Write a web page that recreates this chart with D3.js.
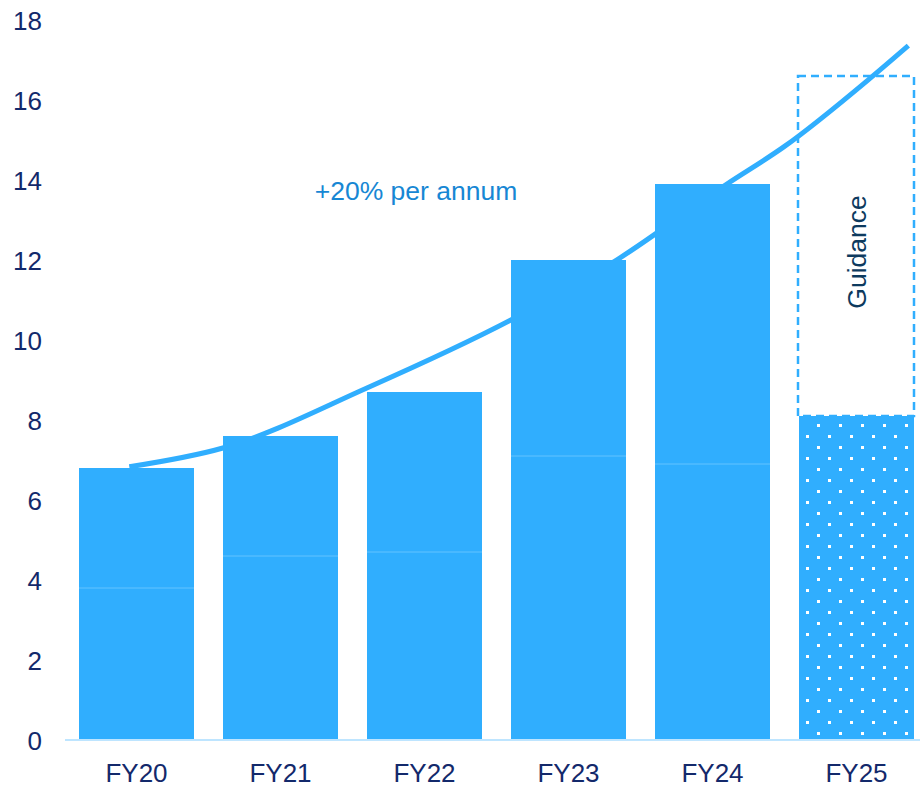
<!DOCTYPE html>
<html>
<head>
<meta charset="utf-8">
<script src="https://cdn.jsdelivr.net/npm/d3@7"></script>
<style>
  html, body { margin: 0; padding: 0; background: #ffffff; }
  svg { display: block; font-family: "Liberation Sans", Arial, Helvetica, sans-serif; }
</style>
</head>
<body>
<svg id="chart" width="920" height="787"></svg>
<script>
// Fiscal years on the x axis
const categories = ["FY20", "FY21", "FY22", "FY23", "FY24", "FY25"];
// Lower stacked segment of each reported year
const lowerValues = [3.8, 4.6, 4.7, 7.1, 6.9];
// Total height of each reported year
const totalValues = [6.8, 7.6, 8.7, 12.0, 13.9];
// FY25 guidance: solid (dotted) base and the top of the dashed range
const guidanceLow = 8.1;
const guidanceHigh = 16.6;
// Growth trend line, position in years from FY20 and value
const trendYears  = [-0.05, 0.6, 1.6, 2.6, 3.3, 4.1, 4.5, 5.1, 5.36];
const trendValues = [6.83, 7.3, 8.8, 10.5, 11.92, 13.9, 14.84, 16.56, 17.36];
// Y axis ticks
const yTicks = [0, 2, 4, 6, 8, 10, 12, 14, 16, 18];

const BLUE = "#30aefe";
const SPLIT = "#63c3ff";
const NAVY = "#13296b";

const svg = d3.select("#chart");

const y = d3.scaleLinear().domain([0, 18]).range([740, 20]);
const x = d3.scaleBand()
  .domain(categories)
  .range([64.5, 928.5])
  .paddingInner(29 / 144)
  .paddingOuter(14.5 / 144);

const step = x.step();
const x0 = x("FY20") + x.bandwidth() / 2;

// Dot fill for the guidance base
const defs = svg.append("defs");
const pat = defs.append("pattern")
  .attr("id", "dots")
  .attr("patternUnits", "userSpaceOnUse")
  .attr("width", 22).attr("height", 22)
  .attr("x", 3).attr("y", 6);
pat.append("rect").attr("width", 22).attr("height", 22).attr("fill", BLUE);
pat.append("rect").attr("x", 0).attr("y", 0).attr("width", 3).attr("height", 3).attr("fill", "#ffffff");
pat.append("rect").attr("x", 11).attr("y", 11).attr("width", 3).attr("height", 3).attr("fill", "#ffffff");

// Trend curve (behind bars)
const trend = trendYears.map((t, i) => [x0 + t * step, y(trendValues[i])]);
svg.append("path")
  .attr("d", d3.line().curve(d3.curveMonotoneX)(trend))
  .attr("fill", "none")
  .attr("stroke", BLUE)
  .attr("stroke-width", 5)
  .attr("stroke-linecap", "butt");

// Reported years: two stacked segments
const reported = categories.slice(0, totalValues.length);
const bars = svg.append("g");
bars.selectAll("rect.total")
  .data(reported)
  .join("rect")
  .attr("x", d => x(d))
  .attr("width", x.bandwidth())
  .attr("y", (d, i) => y(totalValues[i]))
  .attr("height", (d, i) => y(0) - 1 - y(totalValues[i]))
  .attr("fill", BLUE);
bars.selectAll("line.split")
  .data(reported)
  .join("line")
  .attr("x1", d => x(d))
  .attr("x2", d => x(d) + x.bandwidth())
  .attr("y1", (d, i) => y(lowerValues[i]))
  .attr("y2", (d, i) => y(lowerValues[i]))
  .attr("stroke", SPLIT)
  .attr("stroke-width", 1);

// FY25 guidance
svg.append("rect")
  .attr("x", x("FY25"))
  .attr("width", x.bandwidth())
  .attr("y", y(guidanceLow))
  .attr("height", y(0) - 1 - y(guidanceLow))
  .attr("fill", "url(#dots)");
svg.append("rect")
  .attr("x", x("FY25") - 1)
  .attr("width", x.bandwidth() + 1)
  .attr("y", y(guidanceHigh))
  .attr("height", y(guidanceLow) - y(guidanceHigh))
  .attr("fill", "none")
  .attr("stroke", BLUE)
  .attr("stroke-width", 2.5)
  .attr("stroke-dasharray", "8 5");

svg.append("text")
  .attr("transform", `translate(${x("FY25") + x.bandwidth() / 2 + 9}, ${y((guidanceLow + guidanceHigh) / 2 - 0.15)}) rotate(-90)`)
  .attr("text-anchor", "middle")
  .attr("fill", "#0d3a5e")
  .attr("font-size", 26.5)
  .text("Guidance");

// Trend label
svg.append("text")
  .attr("x", 416)
  .attr("y", 200)
  .attr("text-anchor", "middle")
  .attr("fill", "#1787d4")
  .attr("font-size", 26.5)
  .text("+20% per annum");

// Baseline
svg.append("line")
  .attr("x1", 65).attr("x2", 920)
  .attr("y1", y(0)).attr("y2", y(0))
  .attr("stroke", "#a9dcff")
  .attr("stroke-width", 1.5);

// Y axis labels
const yAxis = d3.axisLeft(y).tickValues(yTicks).tickSize(0).tickPadding(0);
const gy = svg.append("g").attr("transform", "translate(42,0)").call(yAxis);
gy.select(".domain").remove();
gy.selectAll("text")
  .attr("fill", NAVY)
  .attr("font-size", 26)
  .attr("font-family", "Liberation Sans, Arial, sans-serif")
  .attr("dy", "0.35em");

// X axis labels
const xAxis = d3.axisBottom(x).tickSize(0).tickPadding(0);
const gx = svg.append("g").attr("transform", "translate(0,763)").call(xAxis);
gx.select(".domain").remove();
gx.selectAll("text")
  .attr("fill", NAVY)
  .attr("font-size", 26)
  .attr("font-family", "Liberation Sans, Arial, sans-serif")
  .attr("dy", "0.72em");
</script>
</body>
</html>
